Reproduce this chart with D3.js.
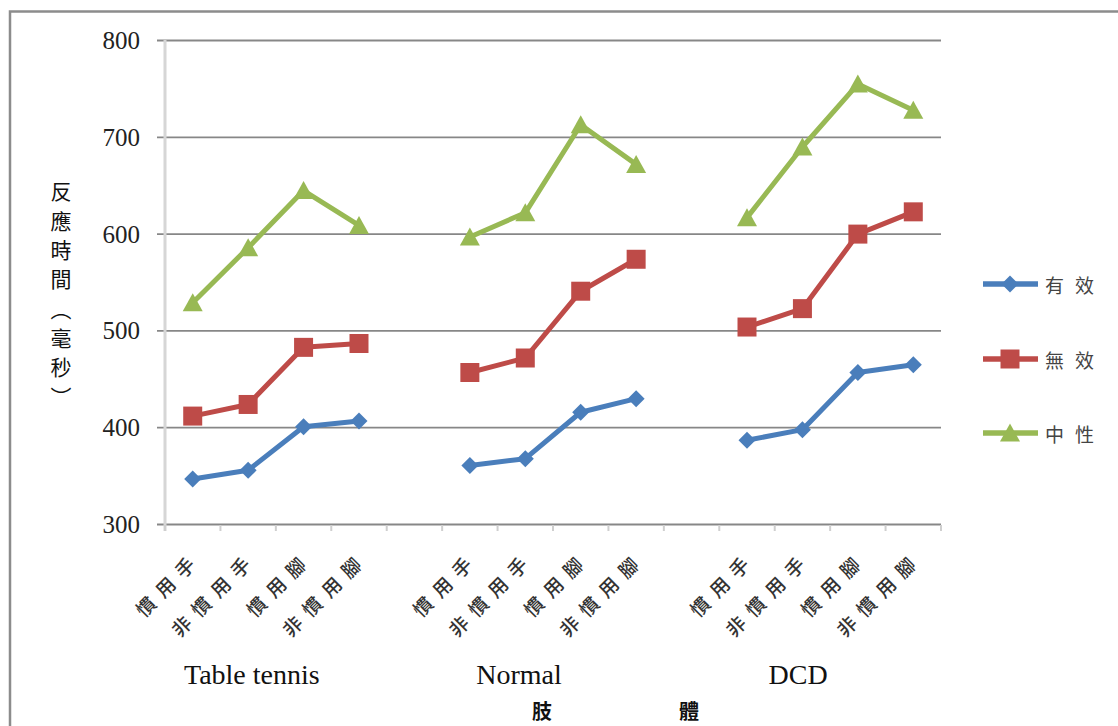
<!DOCTYPE html>
<html>
<head>
<meta charset="utf-8">
<script src="https://cdn.jsdelivr.net/npm/d3@7"></script>
<style>
  html, body { margin: 0; padding: 0; background: #fff; }
  svg { display: block; }
</style>
</head>
<body>
<svg id="chart" width="1118" height="726"></svg>
<script>
// Reaction time (ms) by limb, for three participant groups
const groups = ["Table tennis", "Normal", "DCD"];
const limbs = ["慣用手", "非慣用手", "慣用腳", "非慣用腳"];
const seriesNames = ["有效", "無效", "中性"];

// values listed group by group, limb by limb
const validValues   = [347, 356, 401, 407,  361, 368, 416, 430,  387, 398, 457, 465];
const invalidValues = [412, 424, 483, 487,  457, 472, 541, 574,  504, 523, 600, 623];
const neutralValues = [529, 586, 645, 609,  597, 622, 713, 672,  617, 690, 755, 728];

const yTicks = [300, 400, 500, 600, 700, 800];
const yTitle = "反應時間（毫秒）";
const xTitle = "肢體";

const colors = ["#4A7EBB", "#BE4B48", "#98B954"];
const serif = "'Liberation Serif', 'Times New Roman', serif";
const cjk = "'Noto Sans CJK TC', 'Noto Sans CJK SC', sans-serif";

const svg = d3.select("#chart");

// outer frame (top and left edges visible)
svg.append("path")
  .attr("d", "M10,726 L10,11.5 L1118,11.5")
  .attr("fill", "none").attr("stroke", "#8c8c8c").attr("stroke-width", 2.5);

// category slots: four limbs per group with an empty slot between groups
const slots = [];
groups.forEach((g, gi) => {
  limbs.forEach((l, li) => slots.push(g + "|" + l));
  if (gi < groups.length - 1) slots.push("gap" + gi);
});

const x = d3.scaleBand().domain(slots).range([165, 941]).paddingInner(0).paddingOuter(0);
const y = d3.scaleLinear().domain([300, 800]).range([524.5, 40.5]);
const cx = key => x(key) + x.bandwidth() / 2;

// horizontal gridlines with small left ticks
svg.append("g").selectAll("line").data(yTicks).join("line")
  .attr("x1", 157).attr("x2", 941)
  .attr("y1", d => y(d)).attr("y2", d => y(d))
  .attr("stroke", "#878787").attr("stroke-width", 1.8);

// y tick labels
svg.append("g").selectAll("text").data(yTicks).join("text")
  .attr("x", 140).attr("y", d => y(d))
  .attr("text-anchor", "end").attr("dominant-baseline", "central")
  .attr("font-family", serif).attr("font-size", 25).attr("fill", "#222")
  .text(d => d);

// vertical axis line
svg.append("line")
  .attr("x1", 165).attr("x2", 165).attr("y1", 40).attr("y2", 531)
  .attr("stroke", "#d6d6d6").attr("stroke-width", 3);

// category boundary ticks under the axis
const tickXs = slots.map(s => x(s)).concat([x.range()[1]]);
svg.append("g").selectAll("line").data(tickXs).join("line")
  .attr("x1", d => d).attr("x2", d => d).attr("y1", 525).attr("y2", 531)
  .attr("stroke", "#cfcfcf").attr("stroke-width", 2);

// slanted limb labels
const labelData = [];
groups.forEach(g => limbs.forEach(l => labelData.push({ key: g + "|" + l, text: l })));
svg.append("g").selectAll("text").data(labelData).join("text")
  .attr("transform", d => `translate(${cx(d.key) + 4},554) rotate(-45)`)
  .attr("text-anchor", "end").attr("dominant-baseline", "central")
  .attr("font-family", cjk).attr("font-size", 19).attr("letter-spacing", 8.6)
  .attr("font-weight", 500).attr("fill", "#333")
  .text(d => d.text);

// group names under the labels
const groupNudge = [-24, -34, -32];
svg.append("g").selectAll("text").data(groups).join("text")
  .attr("x", (g, i) => d3.mean(limbs, l => cx(g + "|" + l)) + groupNudge[i])
  .attr("y", 684)
  .attr("text-anchor", "middle")
  .attr("font-family", serif).attr("font-size", 28).attr("fill", "#111")
  .text(d => d);

// x axis title
svg.append("text")
  .attr("x", 532).attr("y", 710).attr("dominant-baseline", "central")
  .attr("font-family", cjk).attr("font-size", 20).attr("font-weight", "bold")
  .attr("letter-spacing", 127).attr("fill", "#111")
  .text(xTitle);

// y axis title, written vertically
svg.append("text")
  .attr("x", 61).attr("y", 181)
  .style("writing-mode", "vertical-rl")
  .attr("font-family", cjk).attr("font-size", 21).attr("letter-spacing", 8.3)
  .attr("fill", "#111")
  .text(yTitle);

// marker shapes
const markerPaths = [
  "M0,-8.5L8.5,0L0,8.5L-8.5,0Z",
  "M-9.5,-9.5H9.5V9.5H-9.5Z",
  "M0,-9.5L10,8.5L-10,8.5Z"
];

const allSeries = [validValues, invalidValues, neutralValues];
const line = d3.line().x(d => cx(d.key)).y(d => y(d.v));

allSeries.forEach((vals, si) => {
  const g = svg.append("g");
  groups.forEach((grp, gi) => {
    const pts = limbs.map((l, li) => ({ key: grp + "|" + l, v: vals[gi * limbs.length + li] }));
    g.append("path").datum(pts)
      .attr("d", line).attr("fill", "none")
      .attr("stroke", colors[si]).attr("stroke-width", 5)
      .attr("stroke-linejoin", "round");
    g.selectAll(null).data(pts).join("path")
      .attr("transform", d => `translate(${cx(d.key)},${y(d.v)})`)
      .attr("d", markerPaths[si]).attr("fill", colors[si]);
  });
});

// legend
const legendY = [284, 359, 433];
const legend = svg.append("g").selectAll("g").data(seriesNames).join("g")
  .attr("transform", (d, i) => `translate(0,${legendY[i]})`);
legend.append("line")
  .attr("x1", 983).attr("x2", 1038).attr("y1", 0).attr("y2", 0)
  .attr("stroke", (d, i) => colors[i]).attr("stroke-width", 5.5);
legend.append("path")
  .attr("transform", "translate(1010,0)")
  .attr("d", (d, i) => markerPaths[i]).attr("fill", (d, i) => colors[i]);
legend.append("text")
  .attr("x", 1045).attr("y", 0).attr("dominant-baseline", "central")
  .attr("font-family", cjk).attr("font-size", 19).attr("letter-spacing", 11)
  .attr("fill", "#444")
  .text(d => d);
</script>
</body>
</html>
